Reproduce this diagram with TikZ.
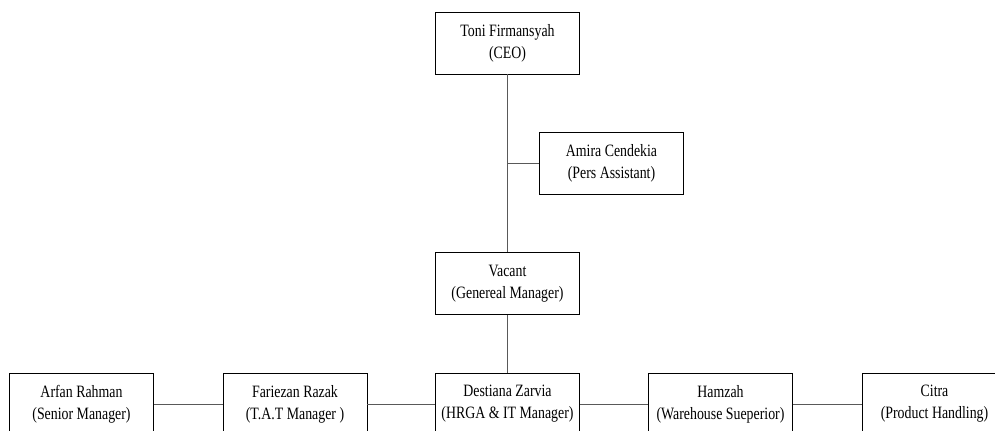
\documentclass[tikz,border=0pt]{standalone}
\usepackage{fontspec}
\setmainfont{Liberation Serif}[FakeStretch=0.8]
\usepackage{tikz}
\usetikzlibrary{positioning,calc}

\begin{document}
\begin{tikzpicture}[x=0.75pt, y=-0.75pt, semithick,
 person/.style={draw, thin, fill=white, minimum width=108pt, minimum height=46.5pt,
   align=center, inner sep=1pt, font=\fontsize{13}{16.5}\selectfont},
 link/.style={draw=black!65, thin}]
 \clip (0,0) rectangle (995,430);
 \fill[white] (0,0) rectangle (995,430);
 % top of the chart
 \node[person] (ceo) at (507.5, 43) {Toni Firmansyah \\ (CEO)};
 \node[person] (amira) at (611.5, 163) {Amira Cendekia \\ (Pers Assistant)};
 \node[person] (gm) at (507.5, 283.5) {Vacant \\ (Genereal Manager)};
 % managers
 \node[person] (arfan) at (81.5, 404) {Arfan Rahman \\ (Senior Manager)};
 \node[person] (fariezan) at (295, 404) {Fariezan Razak \\ (T.A.T Manager )};
 \node[person] (destiana) at (507.5, 404) {Destiana Zarvia \\ (HRGA \& IT Manager)};
 \node[person] (hamzah) at (720.5, 404) {Hamzah \\ (Warehouse Sueperior)};
 \node[person] (citra) at (934.5, 404) {Citra \\ (Product Handling)};
 \path[link] (ceo) -- (gm);
 \path[link] (amira.west) -- (amira.west -| ceo.south);
 \path[link] (gm) -- (destiana);
 \path[link] (arfan) -- (fariezan);
 \path[link] (fariezan) -- (destiana);
 \path[link] (destiana) -- (hamzah);
 \path[link] (hamzah) -- (citra);
\end{tikzpicture}
\end{document}
